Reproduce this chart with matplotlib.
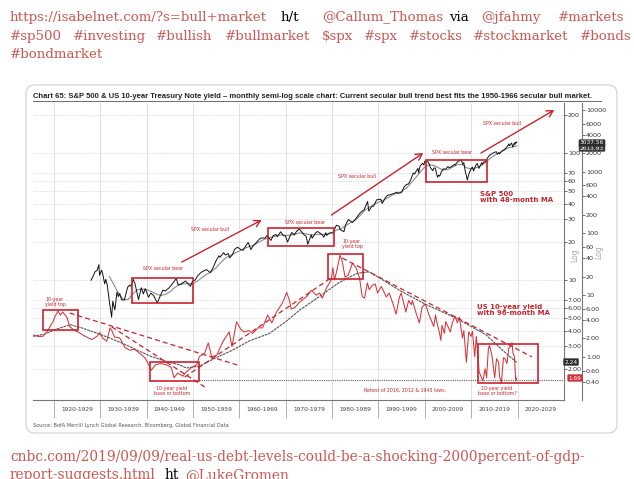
import matplotlib
matplotlib.use('Agg')
import matplotlib.pyplot as plt
from matplotlib.patches import Rectangle, FancyBboxPatch
from matplotlib.ticker import NullLocator

W, H = 634, 479

# S&P 500, monthly level (right log axis)
sp_years = [1928.0, 1928.4, 1928.9, 1929.3, 1929.7, 1929.85, 1930.3, 1930.6, 1930.95, 1931.2,
            1931.5, 1931.95, 1932.45, 1932.7, 1933.15, 1933.6, 1933.9, 1934.2, 1934.6, 1935.2,
            1935.9, 1936.3, 1936.6, 1937.1, 1937.5, 1938.25, 1938.85, 1939.3, 1939.7, 1940.4,
            1940.9, 1941.5, 1942.3, 1942.9, 1943.5, 1944.0, 1944.9, 1945.5, 1946.4, 1946.8,
            1947.4, 1948.4, 1949.45, 1949.9, 1950.5, 1950.95, 1951.5, 1952.0, 1952.9, 1953.7,
            1954.3, 1955.0, 1955.6, 1955.8, 1956.6, 1957.0, 1957.6, 1957.9, 1958.5, 1958.95,
            1959.6, 1960.3, 1960.8, 1961.5, 1961.9, 1962.5, 1962.9, 1963.5, 1963.9, 1964.5,
            1964.95, 1965.5, 1966.0, 1966.8, 1967.3, 1967.9, 1968.2, 1968.9, 1969.5, 1969.9,
            1970.4, 1970.95, 1971.3, 1971.85, 1972.3, 1972.95, 1973.4, 1973.9, 1974.4, 1974.75,
            1975.5, 1975.7, 1976.5, 1976.9, 1977.9, 1978.2, 1978.65, 1978.8, 1979.5, 1979.8,
            1980.2, 1980.9, 1981.5, 1981.7, 1982.55, 1982.9, 1983.5, 1984.4, 1984.95, 1985.5,
            1985.95, 1986.6, 1986.9, 1987.65, 1987.9, 1988.5, 1988.95, 1989.6, 1989.95, 1990.5,
            1990.8, 1991.5, 1991.95, 1992.5, 1993.5, 1993.95, 1994.2, 1994.95, 1995.5, 1995.95,
            1996.5, 1996.95, 1997.5, 1997.8, 1997.95, 1998.5, 1998.65, 1998.95, 1999.5, 1999.8,
            1999.95, 2000.2, 2000.7, 2000.95, 2001.2, 2001.7, 2001.95, 2002.25, 2002.55, 2002.75,
            2002.95, 2003.2, 2003.5, 2003.95, 2004.5, 2004.95, 2005.3, 2005.95, 2006.3, 2006.45,
            2006.95, 2007.45, 2007.8, 2008.2, 2008.4, 2008.75, 2008.9, 2009.15, 2009.5, 2009.95,
            2010.25, 2010.5, 2010.95, 2011.3, 2011.65, 2011.95, 2012.25, 2012.4, 2012.7, 2012.95,
            2013.4, 2013.95, 2014.5, 2014.95, 2015.4, 2015.65, 2015.95, 2016.1, 2016.6, 2016.95,
            2017.5, 2017.95, 2018.1, 2018.2, 2018.7, 2018.95, 2019.3, 2019.4, 2019.55, 2019.65,
            2019.83]
sp_vals = [17.5, 19.8, 24.3, 25.0, 31.3, 21.0, 25.5, 21.0, 15.3, 18.1,
           14.8, 8.1, 4.4, 8.0, 5.8, 11.2, 9.5, 10.7, 8.4, 8.4,
           13.4, 14.6, 14.0, 18.1, 15.3, 8.5, 13.2, 10.5, 12.8, 9.3,
           10.8, 9.9, 7.5, 9.6, 12.1, 11.7, 13.3, 15.1, 18.7, 14.7,
           15.2, 17.0, 14.0, 16.8, 17.7, 20.4, 22.5, 24.1, 26.0, 23.3,
           27.5, 36.6, 43.5, 41.2, 48.8, 44.7, 47.4, 40.3, 45.2, 55.2,
           60.0, 55.0, 53.4, 65.0, 71.6, 54.8, 62.3, 69.1, 75.0, 83.2,
           84.8, 84.1, 92.9, 77.1, 92.6, 96.5, 89.1, 106.5, 92.0, 92.1,
           72.7, 92.2, 103.9, 94.2, 108.0, 118.0, 107.0, 96.0, 90.0, 67.0,
           95.0, 83.9, 104.0, 107.5, 95.0, 87.0, 103.0, 93.0, 102.0, 101.8,
           102.1, 135.8, 131.0, 116.0, 107.1, 138.5, 168.1, 150.6, 167.2, 190.0,
           211.3, 234.0, 242.2, 329.8, 230.3, 271.0, 277.7, 351.5, 353.4, 358.0,
           306.0, 380.0, 417.1, 424.0, 450.0, 466.5, 445.8, 459.3, 562.0, 615.9,
           639.0, 740.7, 954.0, 914.6, 970.4, 1133.8, 957.3, 1229.2, 1372.7, 1282.7,
           1469.3, 1498.6, 1436.5, 1320.3, 1160.3, 1040.9, 1148.1, 1147.4, 911.6, 815.3,
           879.8, 848.2, 974.5, 1111.9, 1101.7, 1211.9, 1156.9, 1248.3, 1310.6, 1270.2,
           1418.3, 1503.4, 1549.4, 1322.7, 1400.4, 968.8, 896.2, 735.1, 919.3, 1115.1,
           1186.7, 1030.7, 1257.6, 1363.6, 1131.4, 1257.6, 1397.9, 1310.3, 1440.7, 1426.2,
           1630.7, 1848.4, 1960.2, 2058.9, 2107.4, 1920.0, 2043.9, 1940.2, 2170.9, 2238.8,
           2423.4, 2673.6, 2823.8, 2640.9, 2913.9, 2506.9, 2945.8, 2752.1, 2980.4, 2926.5,
           3037.56]

# S&P 500 48-month moving average
sp_ma_years = [1932.0, 1933, 1934, 1935, 1936, 1937, 1938, 1939, 1940, 1941, 1942, 1943, 1944,
               1945, 1946, 1947, 1948, 1949, 1950, 1951, 1952, 1953, 1954, 1955, 1956, 1957,
               1958, 1959, 1960, 1961, 1962, 1963, 1964, 1965, 1966, 1967, 1968, 1969, 1970,
               1971, 1972, 1973, 1974, 1975, 1976, 1977, 1978, 1979, 1980, 1981, 1982, 1983,
               1984, 1985, 1986, 1987, 1988, 1989, 1990, 1991, 1992, 1993, 1994, 1995, 1996,
               1997, 1998, 1999, 2000, 2001, 2002, 2003, 2004, 2005, 2006, 2007, 2008, 2009,
               2010, 2011, 2012, 2013, 2014, 2015, 2016, 2017, 2018, 2019.83]
sp_ma_vals = [20, 14.5, 10.5, 8.5, 8.5, 10.5, 12.3, 12.6, 12.3, 11.5, 10.5, 9.9, 10.3,
              11.3, 13.2, 14.7, 15.4, 15.3, 15.5, 17, 19.5, 22, 24, 28, 34, 40,
              44, 48, 52, 57, 61, 64, 71, 78, 84, 87, 91, 95, 93,
              94, 98, 102, 100, 96, 95, 97, 96, 99, 104, 114, 120, 135,
              150, 165, 193, 236, 266, 295, 320, 343, 380, 420, 448, 480, 545,
              655, 800, 990, 1190, 1300, 1260, 1150, 1060, 1090, 1190, 1300, 1310, 1160,
              1110, 1160, 1240, 1400, 1620, 1850, 2010, 2200, 2440, 2614]

# US 10-year Treasury yield, % (left log axis)
yld_years = [1915.5, 1916.5, 1917.6, 1918.7, 1919.8, 1920.3, 1920.9, 1921.4, 1921.9, 1922.8,
             1923.4, 1924.5, 1925.2, 1926.2, 1927.1, 1928.2, 1929.3, 1929.9, 1930.5, 1931.4,
             1932.1, 1932.5, 1933.1, 1934.2, 1935.3, 1936.4, 1937.4, 1938.5, 1939.6, 1940.2,
             1941.0, 1941.9, 1943.0, 1944.3, 1945.3, 1945.9, 1946.7, 1947.8, 1948.6, 1949.7,
             1950.8, 1951.4, 1952.5, 1953.3, 1954.0, 1955.1, 1955.9, 1956.5, 1957.8, 1958.4,
             1959.4, 1960.3, 1961.0, 1962.0, 1962.9, 1964.0, 1965.0, 1966.1, 1967.0, 1968.0,
             1969.3, 1970.2, 1970.8, 1971.2, 1972.0, 1973.0, 1974.5, 1975.5, 1976.6, 1977.3,
             1977.9, 1978.8, 1979.8, 1980.15, 1980.5, 1980.9, 1981.7, 1982.2, 1982.8, 1983.5,
             1984.4, 1985.2, 1985.9, 1986.5, 1987.0, 1987.6, 1988.0, 1988.7, 1989.3, 1989.8,
             1990.6, 1991.7, 1992.3, 1993.0, 1993.8, 1994.5, 1994.9, 1995.9, 1996.5, 1997.1,
             1997.3, 1998.1, 1998.8, 1999.4, 1999.95, 2000.3, 2000.9, 2001.6, 2001.9, 2002.3,
             2002.5, 2003.1, 2003.45, 2003.7, 2004.2, 2004.5, 2005.5, 2005.9, 2006.5, 2007.0,
             2007.45, 2008.1, 2008.4, 2008.95, 2009.45, 2010.0, 2010.25, 2010.75, 2011.1, 2011.7,
             2012.5, 2013.0, 2013.3, 2013.7, 2013.95, 2014.5, 2015.05, 2015.45, 2015.9, 2016.1,
             2016.5, 2016.95, 2017.3, 2017.7, 2018.1, 2018.4, 2018.8, 2019.0, 2019.3, 2019.6,
             2019.83]
yld_vals = [3.7, 3.6, 3.6, 4.0, 4.7, 5.2, 5.7, 5.3, 5.6, 5.1,
            4.3, 4.0, 3.9, 3.7, 3.55, 3.4, 3.6, 3.85, 3.5, 3.3,
            4.2, 4.0, 3.55, 3.5, 2.95, 2.8, 2.85, 2.65, 2.45, 2.25,
            1.95, 2.15, 2.2, 2.15, 2.05, 1.7, 1.85, 1.75, 1.9, 2.05,
            2.15, 2.5, 2.65, 3.2, 2.5, 2.55, 2.95, 3.3, 3.9, 3.0,
            4.7, 4.1, 3.9, 4.0, 3.8, 4.2, 4.2, 5.3, 4.6, 5.6,
            6.6, 8.0, 6.9, 5.9, 6.1, 6.7, 7.4, 8.3, 7.6, 7.9,
            7.2, 8.7, 10.0, 12.5, 10.0, 11.4, 15.7, 13.9, 10.5, 11.0,
            13.6, 12.4, 10.4, 7.4, 7.2, 9.5, 8.4, 9.1, 9.3, 7.9,
            8.9, 7.35, 7.9, 6.7, 5.4, 7.3, 7.9, 5.6, 6.9, 6.4,
            6.9, 5.5, 4.6, 6.1, 6.45, 6.2, 5.3, 4.6, 4.3, 5.3,
            4.8, 3.9, 3.35, 4.4, 3.8, 4.7, 3.9, 4.6, 5.2, 4.6,
            5.1, 3.5, 4.0, 2.25, 3.9, 3.6, 3.95, 2.5, 3.6, 1.9,
            1.6, 2.0, 1.7, 2.9, 3.05, 2.5, 1.7, 2.4, 2.25, 1.75,
            1.55, 2.45, 2.4, 2.2, 2.9, 3.0, 3.2, 2.65, 2.5, 1.6,
            1.69]

# US 10-year yield 96-month moving average
yld_ma_years = [1915.5, 1918.0, 1920.5, 1923.5, 1926.0, 1929.0, 1932.0, 1935.0, 1938.0, 1941.0,
                1944.0, 1947.0, 1948.6, 1951.4, 1955.0, 1958.5, 1962.0, 1966.5, 1970.0, 1973.0,
                1977.0, 1981.6, 1985.4, 1988.0, 1991.0, 1994.5, 2000.3, 2006.8, 2013.2, 2017.0,
                2019.83]
yld_ma_vals = [3.6, 3.75, 4.1, 4.45, 4.2, 3.85, 3.5, 3.15, 2.8, 2.5,
               2.3, 2.15, 2.03, 2.1, 2.45, 2.8, 3.3, 3.8, 4.7, 5.8,
               7.3, 9.6, 11.3, 11.6, 10.0, 8.3, 6.4, 5.0, 3.7, 2.75,
               2.24]

decades = list(range(1920, 2030, 10))
decade_labels = [f'{d}-{d + 9}' for d in decades]
yld_ticks = [200, 100, 70, 60, 50, 40, 30, 20, 10, 7, 6, 5, 4, 3, 2]
yld_tick_labels = ['200', '100', '70', '60', '50', '40', '30', '20', '10',
                   '7.00', '6.00', '5.00', '4.00', '3.00', '2.00']
sp_ticks = [10000, 6000, 4000, 2000, 1000, 600, 400, 200, 100, 60, 40, 20, 10,
            6, 4, 2, 1, 0.6, 0.4]
sp_tick_labels = ['10000', '6000', '4000', '2000', '1000', '600', '400', '200', '100',
                  '60', '40', '20', '10', '6.00', '4.00', '2.00', '1.00', '0.60', '0.40']

RED = '#c9232d'
LINK = '#cc5752'
title = ('Chart 65: S&P 500 & US 10-year Treasury Note yield \u2013 monthly semi-log scale chart: '
         'Current secular bull trend best fits the 1950-1966 secular bull market.')

fig = plt.figure(figsize=(W / 100, H / 100), dpi=100)
fig.patch.set_facecolor('white')

# pixel-coordinate layers for the page text and the chart decorations
bg = fig.add_axes([0, 0, 1, 1], zorder=0, label='bg')
bg.set_xlim(0, W)
bg.set_ylim(H, 0)
bg.axis('off')
fg = fig.add_axes([0, 0, 1, 1], zorder=5, label='fg')
fg.set_xlim(0, W)
fg.set_ylim(H, 0)
fg.axis('off')
fg.patch.set_alpha(0)

renderer = fig.canvas.get_renderer()


def fit(t, width):
    bb = t.get_window_extent(renderer)
    t.set_fontsize(t.get_fontsize() * width / bb.width)
    return t.get_fontsize()


# tweet text above the picture
serif = 'DejaVu Serif'
t = bg.text(10, 17, 'https://isabelnet.com/?s=bull+market', color=LINK, family=serif,
            fontsize=9, va='center')
fs = fit(t, 257)
line1 = [('h/t', 281, 'k'), ('@Callum_Thomas', 322, LINK), ('via', 449, 'k'),
         ('@jfahmy', 481, LINK), ('#markets', 558, LINK)]
line2 = [('#sp500', 10), ('#investing', 73), ('#bullish', 156), ('#bullmarket', 225),
         ('$spx', 322), ('#spx', 364), ('#stocks', 409), ('#stockmarket', 473), ('#bonds', 580)]
for word, x, c in line1:
    bg.text(x, 17, word, color=c, family=serif, fontsize=fs, va='center')
for word, x in line2:
    bg.text(x, 36, word, color=LINK, family=serif, fontsize=fs, va='center')
bg.text(10, 54, '#bondmarket', color=LINK, family=serif, fontsize=fs, va='center')

# link text below the picture (second line runs off the bottom edge, as in the page)
t = bg.text(10, 457, 'cnbc.com/2019/09/09/real-us-debt-levels-could-be-a-shocking-2000percent-of-gdp-',
            color=LINK, family=serif, fontsize=9, va='center')
fs2 = fit(t, 576)
bg.text(10, 475, 'report-suggests.html', color=LINK, family=serif, fontsize=fs2, va='center')
bg.text(165, 475, 'ht', color='k', family=serif, fontsize=fs2, va='center')
bg.text(185, 475, '@LukeGromen', color=LINK, family=serif, fontsize=fs2, va='center')

# picture frame, title and source
bg.add_patch(FancyBboxPatch((26, 85), 591, 348, boxstyle='round,pad=0,rounding_size=9',
                            fc='white', ec='#cfcfcf', lw=0.8))
t = fg.text(33, 96, title, fontsize=6, fontweight='bold', family='Liberation Sans',
            color='#222222', va='center')
fit(t, 567)
fg.plot([33, 601], [100.5, 100.5], color='#555555', lw=0.6)
fg.text(33, 425, 'Source: BofA Merrill Lynch Global Research, Bloomberg, Global Financial Data',
        fontsize=3.6, color='#555555', va='center')

# main chart
ax = fig.add_axes([33 / W, 1 - 400 / H, 531 / W, 297 / H], zorder=2)
ax.set_facecolor('none')
ax.plot(yld_ma_years, yld_ma_vals, color='#555555', lw=0.8, ls=(0, (2.5, 0.7)))
ax.plot(yld_years, yld_vals, color='#d8333a', lw=0.75)
ax.set_yscale('log')
ax.set_ylim(1.136, 247.6)
ax.set_xlim(1915.5, 2030)

ax2 = ax.twinx()
ax2.plot(sp_ma_years, sp_ma_vals, color='#8a8a8a', lw=0.8)
ax2.plot(sp_years, sp_vals, color='#111111', lw=0.7)
ax2.set_yscale('log')
ax2.set_ylim(0.201, 12977)

for a, ticks, labels in [(ax, yld_ticks, yld_tick_labels), (ax2, sp_ticks, sp_tick_labels)]:
    a.yaxis.set_ticks_position('right')
    a.set_yticks(ticks)
    a.set_yticklabels(labels)
    a.yaxis.set_minor_locator(NullLocator())
    a.tick_params(axis='y', which='major', length=2, width=0.6, color='#555555',
                  labelcolor='#333333', labelsize=4.6, pad=0.8)
    for side in ['left', 'top']:
        a.spines[side].set_visible(False)
    a.spines['right'].set_color('#777777')
    a.spines['right'].set_linewidth(0.8)
ax2.spines['bottom'].set_visible(False)
ax2.spines['right'].set_position(('outward', 13))
ax.spines['bottom'].set_color('#777777')
ax.spines['bottom'].set_linewidth(0.8)

ax.set_xticks([d + 5 for d in decades])
ax.set_xticklabels(decade_labels)
ax.set_xticks(decades, minor=True)
ax.tick_params(axis='x', which='major', length=0, pad=5, labelsize=4.2, labelcolor='#444444')
ax.tick_params(axis='x', which='minor', length=13, width=0.5, color='#8f8f8f')
ax.grid(axis='x', which='minor', color='#dddddd', lw=0.6)
ax.grid(axis='y', which='major', color='#c4c4c4', lw=0.5, ls=(0, (1, 1.5)))
ax.set_axisbelow(True)

# boxes around the secular phases
for x0, x1, y0, y1 in [(1917.6, 1925.2, 4.05, 5.8), (1940.7, 1951.2, 1.6, 2.26),
                       (1979.2, 1986.7, 10.2, 15.9), (2011.5, 2024.4, 1.55, 3.14)]:
    ax.add_patch(Rectangle((x0, y0), x1 - x0, y1 - y0, fill=False, ec=RED, lw=1.2, zorder=4))
for x0, x1, y0, y1 in [(1936.8, 1950.1, 7.5, 19.0), (1966.1, 1980.5, 62.8, 123),
                       (2000.3, 2013.4, 682, 1553)]:
    ax2.add_patch(Rectangle((x0, y0), x1 - x0, y1 - y0, fill=False, ec=RED, lw=1.2, zorder=4))

# yield trend lines
for xs, ys in [([1923.4, 1959.6], [5.5, 2.14]), ([1932.5, 1952.9], [4.27, 1.41]),
               ([1948.2, 1979.8], [1.72, 10.4]), ([1982.2, 2023.1], [14.9, 2.48])]:
    ax.plot(xs, ys, color=RED, lw=0.9, ls=(0, (4, 2.5)))
ax.plot([1951.4, 2030], [1.62, 1.62], color='#7a5555', lw=0.8, ls=(0, (1, 1)))

# secular bull arrows
for (xa, ya), (xb, yb) in [((1947.6, 34.5), (1964.8, 165)), ((1979.85, 199), (1999.65, 2013)),
                           ((2012.1, 2013), (2027.9, 10000))]:
    ax2.annotate('', xy=(xb, yb), xytext=(xa, ya),
                 arrowprops=dict(arrowstyle='->,head_length=0.45,head_width=0.25',
                                 color=RED, lw=1.0, shrinkA=0, shrinkB=0))

# small annotations
notes = [('10-year\nyield top', 55, 302), ('SPX secular bear', 163, 269),
         ('10-year yield\nbase or bottom', 172, 391), ('SPX secular bull', 210, 229),
         ('SPX secular bear', 305, 222), ('SPX secular bull', 357, 177),
         ('10-year\nyield top', 352, 244), ('SPX secular bear', 452, 153),
         ('SPX secular bull', 502, 123), ('Retest of 2016, 2012 & 1945 lows.', 405, 390),
         ('10-year yield\nbase or bottom?', 497, 391)]
for txt, x, y in notes:
    fg.text(x, y, txt, fontsize=3.4, color=RED, ha='center', va='center', linespacing=1.1)
fg.text(480, 197, 'S&P 500\nwith 48-month MA', fontsize=5, fontweight='bold', color=RED,
        va='center', linespacing=1.15)
fg.text(477, 310, 'US 10-year yield\nwith 96-month MA', fontsize=5, fontweight='bold', color=RED,
        va='center', linespacing=1.15)

# last-value tags and axis captions
fg.text(592, 148, '2613.93', fontsize=4.2, color='white', ha='center', va='center',
        bbox=dict(boxstyle='round,pad=0.2', fc='#3a3a3a', ec='none'))
fg.text(592, 143, '3037.56', fontsize=4.2, color='white', ha='center', va='center',
        bbox=dict(boxstyle='round,pad=0.2', fc='#2b2b2b', ec='none'))
fg.text(571, 362, '2.24', fontsize=4.2, color='white', ha='center', va='center',
        bbox=dict(boxstyle='round,pad=0.2', fc='#2b2b2b', ec='none'))
fg.text(575, 378, '1.69', fontsize=4.2, color='white', ha='center', va='center',
        bbox=dict(boxstyle='round,pad=0.2', fc='#d0303a', ec='none'))
fg.text(575, 255, 'Log', rotation=90, fontsize=5.5, color='#aaaaaa', ha='center', va='center')
fg.text(599, 252, 'Log', rotation=90, fontsize=5.5, color='#aaaaaa', ha='center', va='center')

fig.savefig('out.png', dpi=100)
